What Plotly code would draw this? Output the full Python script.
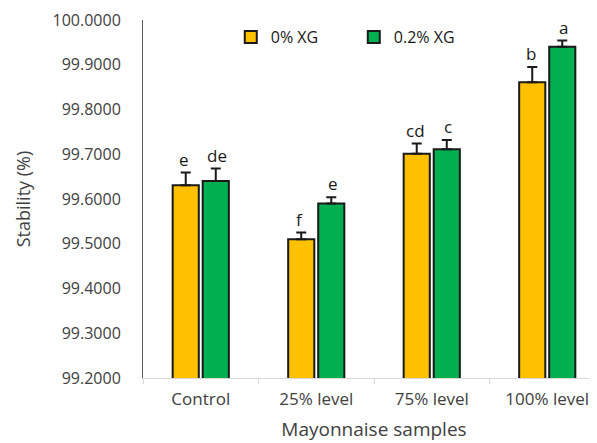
import plotly.graph_objects as go

categories = ["Control", "25% level", "75% level", "100% level"]
xg0_values = [99.631, 99.510, 99.701, 99.861]
xg0_errors = [0.028, 0.015, 0.023, 0.034]
xg0_letters = ["e", "f", "cd", "b"]
xg02_values = [99.640, 99.590, 99.711, 99.940]
xg02_errors = [0.028, 0.014, 0.021, 0.014]
xg02_letters = ["de", "e", "c", "a"]
series_names = ["0% XG", "0.2% XG"]

FONT = "Open Sans, DejaVu Sans"

fig = go.Figure()
for name, vals, errs, color in [
    (series_names[0], xg0_values, xg0_errors, "#FFC000"),
    (series_names[1], xg02_values, xg02_errors, "#00B050"),
]:
    fig.add_trace(go.Bar(
        x=categories, y=vals, name=name,
        marker=dict(color=color, line=dict(color="#1a1a1a", width=2)),
        error_y=dict(type="data", symmetric=False, array=errs,
                     arrayminus=[0] * len(errs), color="#1a1a1a",
                     thickness=2, width=5),
    ))

# letters above error bars
for i, cat in enumerate(categories):
    for offset, vals, errs, letters in [
        (-0.5, xg0_values, xg0_errors, xg0_letters),
        (0.5, xg02_values, xg02_errors, xg02_letters),
    ]:
        fig.add_annotation(
            x=cat, y=vals[i] + errs[i], text=letters[i], showarrow=False,
            xshift=offset * 33, yshift=0, yanchor="bottom",
            font=dict(family=FONT, size=17, color="#1a1a1a"),
        )

fig.update_layout(
    width=597, height=443,
    margin=dict(l=135, r=0, t=12, b=73),
    paper_bgcolor="white", plot_bgcolor="white",
    barmode="group", bargap=0.48, bargroupgap=0.13,
    showlegend=True,
    legend=dict(orientation="h", x=0.19, y=1.0, xanchor="left", yanchor="top",
                font=dict(family=FONT, size=16, color="#1a1a1a"),
                entrywidth=78, entrywidthmode="pixels",
                itemsizing="constant", bgcolor="rgba(0,0,0,0)"),
    font=dict(family=FONT, color="#404040"),
)
fig.update_xaxes(
    range=[-0.5, 3.5], showline=True, linecolor="#d9d9d9", linewidth=1,
    ticks="outside", tickson="boundaries", ticklen=5, tickcolor="#d9d9d9",
    tickfont=dict(size=17, color="#404040"), ticklabelstandoff=6,
    title=dict(text="Mayonnaise samples", font=dict(size=19, color="#404040"), standoff=13),
    showgrid=False,
)
fig.update_yaxes(
    range=[99.2, 100.0], dtick=0.1, tick0=99.2, tickformat=".4f",
    showline=True, linecolor="#595959", linewidth=1, showgrid=False,
    zeroline=False, ticks="", ticklabelstandoff=18,
    tickfont=dict(size=16, color="#404040"),
    title=dict(text="Stability (%)", font=dict(size=18, color="#404040"), standoff=17),
)
fig.write_html("out.html")
